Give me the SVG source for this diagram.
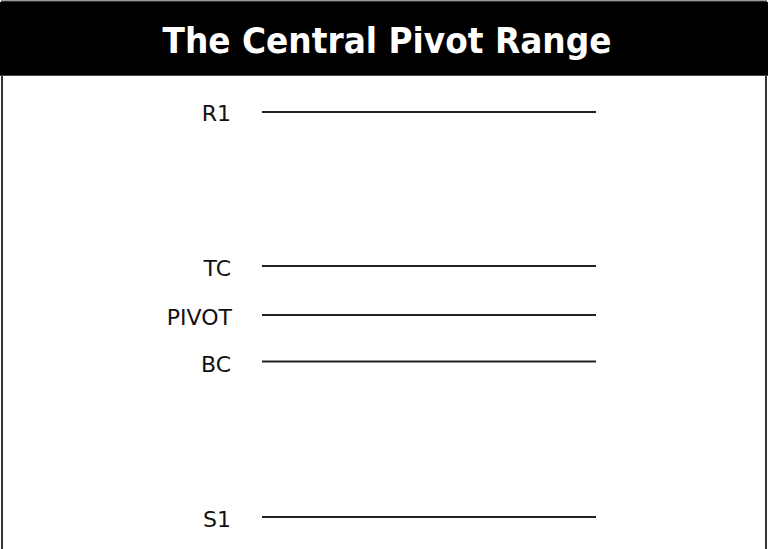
<svg xmlns="http://www.w3.org/2000/svg" width="768" height="549" viewBox="0 0 768 549">
<style>
.lbl{font-family:"DejaVu Sans","Verdana",sans-serif;font-size:22px;fill:#111;text-anchor:end}
.lvl{stroke:#222;stroke-width:2}
.title{font-family:"DejaVu Sans Condensed","DejaVu Sans",sans-serif;font-stretch:condensed;font-weight:bold;font-size:36px;fill:#fff;text-anchor:middle}
</style>
<rect x="0" y="0" width="768" height="549" fill="#fff"/>
<g id="frame">
<rect x="2" y="1.5" width="764" height="620" fill="none" stroke="#333" stroke-width="2"/>
<rect x="0" y="2" width="768" height="73" fill="#000"/>
<line x1="0" y1="75.5" x2="768" y2="75.5" stroke="#444" stroke-width="1"/>
</g>
<g id="title"><text class="title" x="387" y="53" textLength="449" lengthAdjust="spacingAndGlyphs">The Central Pivot Range</text></g>
<g id="connectors">
<line class="lvl" x1="262" y1="112" x2="596" y2="112"/>
<line class="lvl" x1="262" y1="266" x2="596" y2="266"/>
<line class="lvl" x1="262" y1="315" x2="596" y2="315"/>
<line class="lvl" x1="262" y1="361.5" x2="596" y2="361.5"/>
<line class="lvl" x1="262" y1="517" x2="596" y2="517"/>
</g>
<g id="R1"><text class="lbl" x="231" y="121">R1</text></g>
<g id="TC"><text class="lbl" x="231" y="276">TC</text></g>
<g id="PIVOT"><text class="lbl" x="232" y="325">PIVOT</text></g>
<g id="BC"><text class="lbl" x="231" y="371.5">BC</text></g>
<g id="S1"><text class="lbl" x="231" y="527">S1</text></g>
</svg>
